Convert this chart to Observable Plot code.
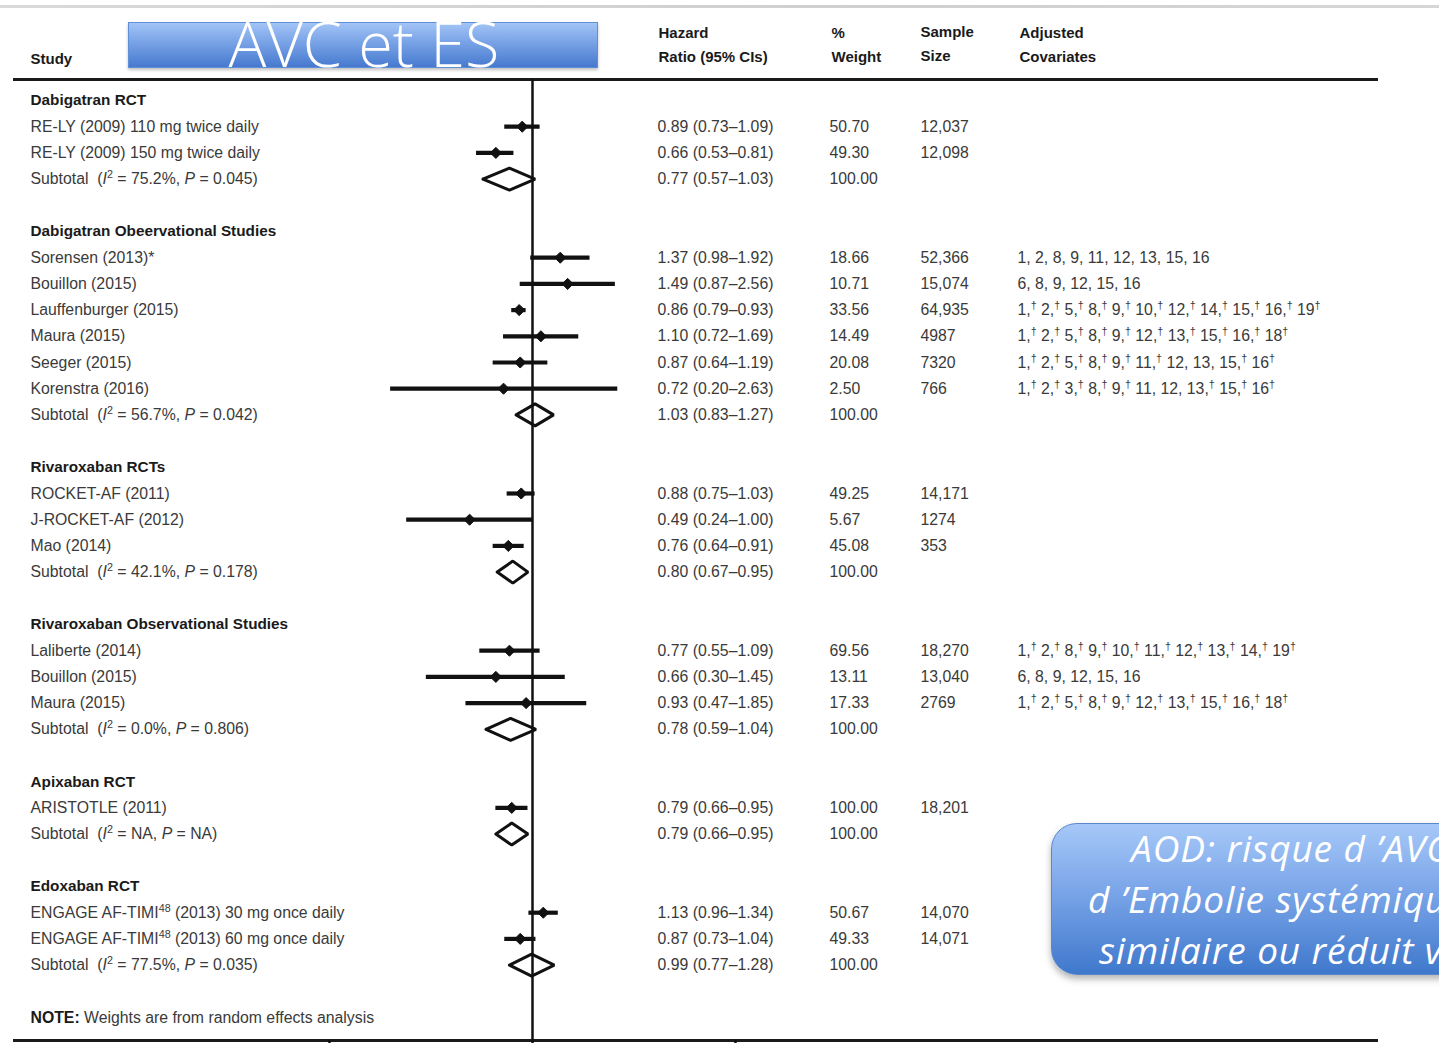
<!DOCTYPE html>
<html>
<head>
<meta charset="utf-8">
<script src="https://cdn.jsdelivr.net/npm/d3@7"></script>
<script src="https://cdn.jsdelivr.net/npm/@observablehq/plot@0.6"></script>
<style>
  html, body { margin: 0; padding: 0; background: #fff; }
  #wrap { position: relative; width: 1439px; height: 1043px; overflow: hidden; background: #fff; }
  #wrap svg { position: absolute; left: 0; top: 0; }
  #wrap svg text { white-space: pre; }
  #topline { position: absolute; left: 0; top: 5px; width: 1439px; height: 3px; background: linear-gradient(to right, #d9d9d9, #cfcfcf 60%, #d6d6d6); }
  #titleBox { position: absolute; left: 128px; top: 22px; width: 470px; height: 46px;
    background: linear-gradient(#a2c4f6, #78a2e6 45%, #4679cf);
    border: 1px solid #5f8fd6; box-shadow: 0 2px 3px rgba(0,0,0,0.25); box-sizing: border-box; }
  #titleText { position: absolute; left: 128px; width: 472px; top: 11px; text-align: center;
    font-family: "Open Sans", sans-serif; font-weight: 300; font-size: 63px; line-height: 63px; color: #fff; white-space: nowrap; }
  #callout { position: absolute; left: 1051px; top: 823px; width: 560px; height: 152px; border-radius: 26px;
    background: linear-gradient(#a6c8f8, #7aa5e8 45%, #3f78cc);
    border: 1.5px solid #5a86cc; box-shadow: 0 4px 7px rgba(0,0,0,0.3); box-sizing: border-box; }
  .cl { position: absolute; font-family: "Open Sans", sans-serif; font-style: italic; font-size: 37px; letter-spacing: 0.9px; line-height: 51px; color: #fff; white-space: nowrap; }
</style>
</head>
<body>
<div id="wrap">
  <div id="topline"></div>
</div>
<script>
// ---------- data ----------
const groupNames = [
  "Dabigatran RCT",
  "Dabigatran Obeervational Studies",
  "Rivaroxaban RCTs",
  "Rivaroxaban Observational Studies",
  "Apixaban RCT",
  "Edoxaban RCT"
];

const studyNames = [
  "RE-LY (2009) 110 mg twice daily",
  "RE-LY (2009) 150 mg twice daily",
  "Sorensen (2013)*",
  "Bouillon (2015)",
  "Lauffenburger (2015)",
  "Maura (2015)",
  "Seeger (2015)",
  "Korenstra (2016)",
  "ROCKET-AF (2011)",
  "J-ROCKET-AF (2012)",
  "Mao (2014)",
  "Laliberte (2014)",
  "Bouillon (2015)",
  "Maura (2015)",
  "ARISTOTLE (2011)",
  "ENGAGE AF-TIMI⁴⁸ (2013) 30 mg once daily",
  "ENGAGE AF-TIMI⁴⁸ (2013) 60 mg once daily"
];
const studyGroup = [0, 0, 1, 1, 1, 1, 1, 1, 2, 2, 2, 3, 3, 3, 4, 5, 5];
const studyHR = [0.89, 0.66, 1.37, 1.49, 0.86, 1.10, 0.87, 0.72, 0.88, 0.49, 0.76, 0.77, 0.66, 0.93, 0.79, 1.13, 0.87];
const studyLo = [0.73, 0.53, 0.98, 0.87, 0.79, 0.72, 0.64, 0.20, 0.75, 0.24, 0.64, 0.55, 0.30, 0.47, 0.66, 0.96, 0.73];
const studyHi = [1.09, 0.81, 1.92, 2.56, 0.93, 1.69, 1.19, 2.63, 1.03, 1.00, 0.91, 1.09, 1.45, 1.85, 0.95, 1.34, 1.04];
const studyWeight = [50.70, 49.30, 18.66, 10.71, 33.56, 14.49, 20.08, 2.50, 49.25, 5.67, 45.08, 69.56, 13.11, 17.33, 100.00, 50.67, 49.33];
const studySize = ["12,037", "12,098", "52,366", "15,074", "64,935", "4987", "7320", "766", "14,171", "1274", "353", "18,270", "13,040", "2769", "18,201", "14,070", "14,071"];
const studyCov = [
  "", "",
  "1, 2, 8, 9, 11, 12, 13, 15, 16",
  "6, 8, 9, 12, 15, 16",
  "1,† 2,† 5,† 8,† 9,† 10,† 12,† 14,† 15,† 16,† 19†",
  "1,† 2,† 5,† 8,† 9,† 12,† 13,† 15,† 16,† 18†",
  "1,† 2,† 5,† 8,† 9,† 11,† 12, 13, 15,† 16†",
  "1,† 2,† 3,† 8,† 9,† 11, 12, 13,† 15,† 16†",
  "", "", "",
  "1,† 2,† 8,† 9,† 10,† 11,† 12,† 13,† 14,† 19†",
  "6, 8, 9, 12, 15, 16",
  "1,† 2,† 5,† 8,† 9,† 12,† 13,† 15,† 16,† 18†",
  "", "", ""
];

const subHet = ["I² = 75.2%, P = 0.045", "I² = 56.7%, P = 0.042", "I² = 42.1%, P = 0.178", "I² = 0.0%, P = 0.806", "I² = NA, P = NA", "I² = 77.5%, P = 0.035"];
const subHR = [0.77, 1.03, 0.80, 0.78, 0.79, 0.99];
const subLo = [0.57, 0.83, 0.67, 0.59, 0.66, 0.77];
const subHi = [1.03, 1.27, 0.95, 1.04, 0.95, 1.28];
const subWeight = [100, 100, 100, 100, 100, 100];

const headerStudy = "Study";
const headerHR = "Hazard\nRatio (95% CIs)";
const headerWeight = "%\nWeight";
const headerSize = "Sample\nSize";
const headerCov = "Adjusted\nCovariates";
const noteText = "NOTE: Weights are from random effects analysis";

// ---------- build rows ----------
const f2 = d3.format(".2f");
const headers = [], studies = [], subtotals = [];
let idx = 0;
groupNames.forEach((g, gi) => {
  headers.push({idx, label: g});
  idx++;
  studyNames.forEach((s, si) => {
    if (studyGroup[si] !== gi) return;
    studies.push({
      idx, label: s, hr: studyHR[si], lo: studyLo[si], hi: studyHi[si],
      hrText: `${f2(studyHR[si])} (${f2(studyLo[si])}–${f2(studyHi[si])})`,
      weight: f2(studyWeight[si]), size: studySize[si], cov: studyCov[si]
    });
    idx++;
  });
  subtotals.push({
    idx, group: gi, label: `Subtotal  (${subHet[gi]})`, hr: subHR[gi], lo: subLo[gi], hi: subHi[gi],
    hrText: `${f2(subHR[gi])} (${f2(subLo[gi])}–${f2(subHi[gi])})`, weight: f2(subWeight[gi]), size: "", cov: ""
  });
  idx += 2;
});
const noteRow = [{idx, label: noteText}];
const dataRows = studies.concat(subtotals);
const lastRow = idx;

const diamondPts = subtotals.flatMap(s => [
  {g: s.group, x: s.lo, y: s.idx},
  {g: s.group, x: s.hr, y: s.idx - 0.42},
  {g: s.group, x: s.hi, y: s.idx},
  {g: s.group, x: s.hr, y: s.idx + 0.42},
  {g: s.group, x: s.lo, y: s.idx}
]);

// ---------- chart ----------
const FONT = "'Liberation Sans', Arial, sans-serif";
const textGray = "#3a3a3a";
const headGray = "#1a1a1a";

const colText = (key, dx) => Plot.text(dataRows, {
  y: "idx", text: key, frameAnchor: "left", dx, textAnchor: "start", fill: textGray
});
const headText = (txt, dx, dy) => Plot.text([txt], {
  text: d => d, frameAnchor: "top-left", dx, dy, textAnchor: "start", lineAnchor: "middle",
  lineHeight: 1.58, fontWeight: "bold", fill: headGray, fontSize: 15
});

const chart = Plot.plot({
  width: 1439,
  height: 1043,
  marginLeft: 14,
  marginRight: 63,
  marginTop: 79,
  marginBottom: 3,
  x: {type: "log", domain: [0.1, 10], range: [329, 735], axis: null},
  y: {domain: [0, lastRow], range: [100, 1017], axis: null},
  style: {fontFamily: FONT, fontSize: "15.8px", background: "transparent", overflow: "visible"},
  marks: [
    Plot.frame({anchor: "top", stroke: "#1a1a1a", strokeWidth: 3}),
    Plot.frame({anchor: "bottom", stroke: "#1a1a1a", strokeWidth: 3}),
    Plot.ruleX([1], {stroke: "#111", strokeWidth: 2.5}),
    Plot.axisX([0.1, 1, 10], {tickSize: 8, tickFormat: () => "", stroke: "#111", strokeWidth: 2.5, label: null}),
    // CIs
    Plot.ruleY(studies, {y: "idx", x1: "lo", x2: "hi", stroke: "#111", strokeWidth: 4.2}),
    Plot.dot(studies, {x: "hr", y: "idx", symbol: "diamond2", r: 5, fill: "#111", stroke: "#111", strokeWidth: 1}),
    Plot.line(diamondPts, {x: "x", y: "y", z: "g", stroke: "#111", strokeWidth: 3, strokeLinejoin: "miter", fill: "none"}),
    // text columns
    Plot.text(headers, {y: "idx", text: "label", frameAnchor: "left", dx: 16, textAnchor: "start", fontWeight: "bold", fill: headGray, fontSize: 15.3}),
    colText("label", 16),
    colText("hrText", 643),
    colText("weight", 815),
    colText("size", 906),
    colText("cov", 1003),
    Plot.text(noteRow, {y: "idx", text: "label", frameAnchor: "left", dx: 16, textAnchor: "start", fill: textGray}),
    headText(headerStudy, 16, -23),
    headText(headerHR, 644, -37),
    headText(headerWeight, 817, -37),
    headText(headerSize, 906, -38),
    headText(headerCov, 1005, -37)
  ]
});

// rich text: italics, superscripts, bold NOTE
d3.select(chart).selectAll("text").each(function() {
  if (this.childElementCount) return;
  const t = this.textContent;
  const re = /(I²|P(?= =)|†|⁴⁸|NOTE:)/g;
  if (!t || !re.test(t)) return;
  re.lastIndex = 0;
  const el = d3.select(this);
  el.text(null);
  let last = 0, m;
  while ((m = re.exec(t))) {
    if (m.index > last) el.append("tspan").text(t.slice(last, m.index));
    const tok = m[0];
    if (tok === "I²") {
      el.append("tspan").attr("font-style", "italic").text("I");
      el.append("tspan").attr("baseline-shift", "super").attr("font-size", "68%").text("2");
    } else if (tok === "P") {
      el.append("tspan").attr("font-style", "italic").text("P");
    } else if (tok === "†") {
      el.append("tspan").attr("baseline-shift", "super").attr("font-size", "68%").text("†");
    } else if (tok === "⁴⁸") {
      el.append("tspan").attr("baseline-shift", "super").attr("font-size", "68%").text("48");
    } else if (tok === "NOTE:") {
      el.append("tspan").attr("font-weight", "bold").attr("fill", headGray).text("NOTE:");
    }
    last = re.lastIndex;
  }
  if (last < t.length) el.append("tspan").text(t.slice(last));
});

const wrap = document.getElementById("wrap");
wrap.appendChild(chart);

// overlays (title banner and callout)
const titleBox = document.createElement("div"); titleBox.id = "titleBox"; wrap.appendChild(titleBox);
const titleText = document.createElement("div"); titleText.id = "titleText"; titleText.textContent = "AVC et ES"; wrap.appendChild(titleText);
const callout = document.createElement("div"); callout.id = "callout"; wrap.appendChild(callout);
const calloutLines = [
  {t: "AOD: risque d ’AVC et", left: 1131, top: 822},
  {t: "d ’Embolie systémique", left: 1088, top: 873},
  {t: "similaire ou réduit vs AVK", left: 1099, top: 924}
];
calloutLines.forEach(l => {
  const d = document.createElement("div");
  d.className = "cl"; d.textContent = l.t;
  d.style.left = l.left + "px"; d.style.top = l.top + "px";
  wrap.appendChild(d);
});
</script>
</body>
</html>
